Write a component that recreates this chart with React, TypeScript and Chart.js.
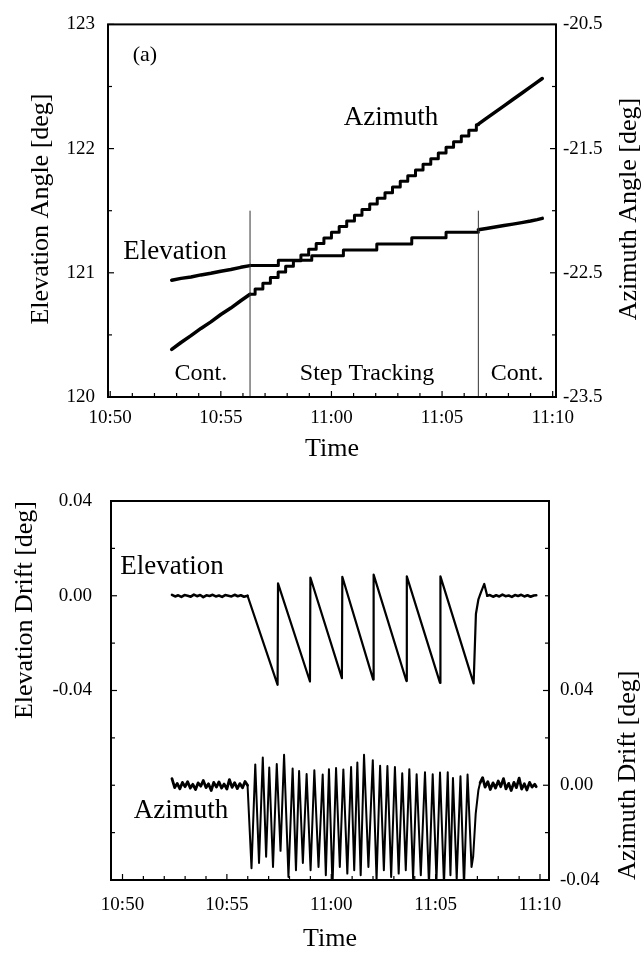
import { useEffect, useRef } from 'react';
import { Chart, registerables } from 'chart.js';

Chart.register(...registerables);

const SERIF = '"Liberation Serif", "Times New Roman", Times, serif';
const W = 642;
const TOP_H = 470;
const BOT_H = 483;

// ---------- (a) Antenna angles, x = minutes after 10:50 ----------
const elevContT1 = [2.78, 3.2, 3.65, 4.1, 4.55, 5.0, 5.45, 5.9, 6.32];
const elevContV1 = [120.94, 120.955, 120.966, 120.983, 120.996, 121.013, 121.026, 121.044, 121.058];
const elevStepEdges = [6.32, 7.6, 9.11, 10.54, 12.05, 13.63, 15.18];
const elevStepLevels = [121.058, 121.102, 121.138, 121.183, 121.231, 121.283, 121.327];
const elevContT2 = [16.64, 17.0, 17.4, 17.8, 18.2, 18.6, 19.0, 19.3, 19.53];
const elevContV2 = [121.346, 121.357, 121.369, 121.381, 121.392, 121.404, 121.417, 121.428, 121.438];

const azContT1 = [2.78, 3.2, 3.65, 4.1, 4.55, 5.0, 5.45, 5.9, 6.32];
const azContV1 = [-23.117, -23.061, -23.006, -22.948, -22.895, -22.836, -22.784, -22.725, -22.673];
const azStepEdges = [
  6.32, 6.55, 6.9, 7.24, 7.59, 7.93, 8.28, 8.62, 8.97, 9.31, 9.66, 10.0, 10.35, 10.69, 11.04, 11.38,
  11.73, 12.07, 12.42, 12.76, 13.11, 13.45, 13.8, 14.14, 14.49, 14.83, 15.18, 15.52, 15.87, 16.21, 16.55,
];
const azStepLevels = [
  -22.673, -22.63, -22.585, -22.538, -22.494, -22.447, -22.402, -22.356, -22.311, -22.265, -22.219,
  -22.174, -22.128, -22.082, -22.037, -21.991, -21.946, -21.9, -21.855, -21.809, -21.763, -21.718,
  -21.672, -21.627, -21.581, -21.535, -21.49, -21.444, -21.399, -21.353, -21.308,
];
const azContT2 = [16.64, 17.0, 17.4, 17.8, 18.2, 18.6, 19.0, 19.3, 19.53];
const azContV2 = [-21.303, -21.257, -21.206, -21.156, -21.105, -21.054, -21.003, -20.965, -20.936];
const stepEnd = 16.64;
const modeBounds = [6.32, 16.64];
const boundSpan = [120, 121.5];

const minuteTicks = [0, 1, 2, 3, 4, 5, 6, 7, 8, 9, 10, 11, 12, 13, 14, 15, 16, 17, 18, 19, 20];
const minuteLabels = [0, 5, 10, 15, 20];
const elevAngleTicks = [120, 120.5, 121, 121.5, 122, 122.5, 123];
const elevAngleLabels = [120, 121, 122, 123];
const azAngleTicks = [-23.5, -23, -22.5, -22, -21.5, -21, -20.5];
const azAngleLabels = [-23.5, -22.5, -21.5, -20.5];

// ---------- (b) Drift, x = minutes after 10:50 ----------
const elevFlatT1 = [2.37, 2.52, 2.67, 2.82, 2.97, 3.12, 3.27, 3.42, 3.57, 3.72, 3.87, 4.02, 4.17, 4.32, 4.47, 4.62, 4.77, 4.92, 5.07, 5.22, 5.37, 5.52, 5.67, 5.82, 5.99];
const elevFlatV1 = [0.0004, -0.0003, 0.0002, -0.0005, 0.0003, 0.0, -0.0004, 0.0005, -0.0002, 0.0003, -0.0006, 0.0002, -0.0001, 0.0004, -0.0003, 0.0001, -0.0005, 0.0003, 0.0, -0.0003, 0.0004, -0.0002, 0.0002, -0.0004, 0.0];
const elevSawT = [5.99, 7.43, 7.45, 8.98, 9.0, 10.51, 10.53, 12.01, 12.03, 13.6, 13.62, 15.21, 15.23, 16.82, 16.93, 17.05, 17.17, 17.33, 17.47];
const elevSawV = [0.0, -0.0376, 0.0052, -0.0362, 0.0077, -0.0348, 0.008, -0.0354, 0.0089, -0.036, 0.0082, -0.0368, 0.0082, -0.037, -0.0077, -0.0015, 0.0014, 0.005, 0.0];
const elevFlatT2 = [17.47, 17.6, 17.75, 17.9, 18.05, 18.2, 18.35, 18.5, 18.65, 18.8, 18.95, 19.1, 19.25, 19.4, 19.55, 19.7, 19.82];
const elevFlatV2 = [0.0, 0.0003, -0.0004, 0.0002, -0.0003, 0.0005, -0.0002, 0.0001, -0.0005, 0.0003, -0.0001, 0.0004, -0.0003, 0.0002, -0.0004, 0.0001, 0.0002];

const azFlatT1 = [2.37, 2.5, 2.62, 2.75, 2.87, 3.0, 3.12, 3.25, 3.37, 3.5, 3.62, 3.75, 3.87, 4.0, 4.12, 4.25, 4.37, 4.5, 4.62, 4.75, 4.87, 5.0, 5.12, 5.25, 5.37, 5.5, 5.62, 5.75, 5.87, 5.99];
const azFlatV1 = [0.0028, -0.001, 0.0008, -0.0015, 0.0012, -0.0006, 0.0015, -0.0012, 0.0004, -0.0018, 0.001, -0.0004, 0.002, -0.001, 0.0006, -0.0022, 0.0012, -0.0008, 0.0014, -0.0012, 0.0005, -0.0016, 0.0024, -0.0009, 0.0011, -0.0014, 0.0007, -0.0011, 0.0016, 0.0];
const azEntryT = [5.99, 6.18];
const azEntryV = [0.0, -0.035];
const azPeakT = [6.36, 6.72, 7.03, 7.39, 7.74, 8.15, 8.46, 8.82, 9.19, 9.59, 9.89, 10.23, 10.58, 10.95, 11.25, 11.57, 11.99, 12.34, 12.69, 13.05, 13.4, 13.74, 14.09, 14.49, 14.86, 15.21, 15.58, 15.83, 16.19, 16.53];
const azPeakV = [0.0088, 0.0117, 0.0075, 0.009, 0.0129, 0.0071, 0.006, 0.0047, 0.0063, 0.0045, 0.0068, 0.0073, 0.0067, 0.0077, 0.0096, 0.0129, 0.0106, 0.0082, 0.0081, 0.0077, 0.0051, 0.0068, 0.0046, 0.0055, 0.0046, 0.0054, 0.0055, 0.0031, 0.0038, 0.0045];
const azTroughT = [6.54, 6.88, 7.21, 7.57, 7.95, 8.31, 8.64, 9.01, 9.39, 9.74, 10.06, 10.41, 10.77, 11.1, 11.41, 11.78, 12.17, 12.52, 12.87, 13.23, 13.57, 13.92, 14.29, 14.68, 15.04, 15.4, 15.71, 16.01, 16.36, 16.72];
const azTroughV = [-0.0328, -0.0302, -0.0345, -0.0277, -0.0387, -0.0359, -0.0328, -0.0359, -0.0345, -0.038, -0.0425, -0.0345, -0.0373, -0.0359, -0.038, -0.0345, -0.0401, -0.0359, -0.0387, -0.0373, -0.0359, -0.0394, -0.038, -0.042, -0.0401, -0.042, -0.038, -0.0394, -0.0425, -0.0345];
const azExitT = [16.8, 16.92, 17.05, 17.13];
const azExitV = [-0.03, -0.012, -0.002, 0.001];
const azFlatT2 = [17.13, 17.25, 17.37, 17.5, 17.62, 17.75, 17.87, 18.0, 18.12, 18.25, 18.37, 18.5, 18.62, 18.75, 18.87, 19.0, 19.12, 19.25, 19.37, 19.5, 19.62, 19.75, 19.82];
const azFlatV2 = [0.001, 0.0032, -0.0008, 0.0015, -0.0018, 0.001, -0.0012, 0.0018, -0.0006, 0.0028, -0.0015, 0.0008, -0.0022, 0.0012, -0.001, 0.003, -0.0016, 0.0006, -0.002, 0.0012, -0.0008, 0.0004, -0.0006];

const elevDriftTicks = [-0.12, -0.1, -0.08, -0.06, -0.04, -0.02, 0, 0.02, 0.04];
const azDriftTicks = [-0.04, -0.02, 0, 0.02, 0.04, 0.06, 0.08, 0.1, 0.12];
const driftLabels = [-0.04, 0, 0.04];

// ---------- helpers ----------
const near = (list: number[], v: number) => list.some((u) => Math.abs(u - v) < 1e-6);
const pts = (t: number[], v: number[]) => t.map((x, i) => ({ x, y: v[i] }));
const clock = (v: number) => {
  const total = 50 + Math.round(v);
  return `${10 + Math.floor(total / 60)}:${String(total % 60).padStart(2, '0')}`;
};

const trace = (data: any[], yAxisID: string, width: number, extra: any = {}) => ({
  data,
  yAxisID,
  xAxisID: 'x',
  borderColor: '#000',
  borderWidth: width,
  pointRadius: 0,
  tension: 0,
  fill: false,
  borderJoinStyle: 'round',
  borderCapStyle: 'round',
  ...extra,
});

const yAxis = (
  position: string,
  min: number,
  max: number,
  tickVals: number[],
  labelVals: number[],
  fmt: (v: number) => string,
  width: number,
  pad: number,
) => ({
  type: 'linear',
  position,
  min,
  max,
  grid: { display: false, drawTicks: false },
  border: { display: false },
  afterBuildTicks: (s: any) => {
    s.ticks = tickVals.map((v) => ({ value: v }));
  },
  afterFit: (s: any) => {
    s.width = width;
  },
  ticks: {
    autoSkip: false,
    padding: pad,
    color: '#000',
    font: { family: SERIF, size: 19 },
    callback: (v: any) => (near(labelVals, Number(v)) ? fmt(Number(v)) : ''),
  },
});

const xAxis = (min: number, max: number, height: number, pad: number, titlePad: number) => ({
  type: 'linear',
  position: 'bottom',
  min,
  max,
  grid: { display: false, drawTicks: false },
  border: { display: false },
  afterBuildTicks: (s: any) => {
    s.ticks = minuteTicks.map((v) => ({ value: v }));
  },
  afterFit: (s: any) => {
    s.height = height;
  },
  ticks: {
    autoSkip: false,
    maxRotation: 0,
    padding: pad,
    color: '#000',
    font: { family: SERIF, size: 19 },
    callback: (v: any) => (near(minuteLabels, Number(v)) ? clock(Number(v)) : ''),
  },
  title: {
    display: true,
    text: 'Time',
    color: '#000',
    font: { family: SERIF, size: 26, lineHeight: 1 },
    padding: { top: 0, bottom: titlePad },
  },
});

type Note = { text: string; x: number; y: number; axis: string; size: number };
type Title = { text: string; px: number; py: number; align: CanvasTextAlign };

const decor = (
  sides: [string, 'left' | 'right' | 'bottom', number[]][],
  notes: Note[],
  titles: Title[],
) => ({
  id: 'decor',
  afterDatasetsDraw(chart: any) {
    const { ctx, chartArea: a } = chart;
    ctx.save();
    ctx.strokeStyle = '#000';
    ctx.lineWidth = 2;
    ctx.strokeRect(a.left, a.top, a.right - a.left, a.bottom - a.top);
    ctx.lineWidth = 1.2;
    for (const [id, side, labels] of sides) {
      const s = chart.scales[id];
      for (const t of s.ticks) {
        const p = s.getPixelForValue(t.value);
        const len = near(labels, t.value) ? 6 : 4;
        ctx.beginPath();
        if (side === 'bottom') {
          ctx.moveTo(p, a.bottom);
          ctx.lineTo(p, a.bottom - len);
        } else if (side === 'left') {
          ctx.moveTo(a.left, p);
          ctx.lineTo(a.left + len, p);
        } else {
          ctx.moveTo(a.right, p);
          ctx.lineTo(a.right - len, p);
        }
        ctx.stroke();
      }
    }
    ctx.fillStyle = '#000';
    ctx.textAlign = 'center';
    ctx.textBaseline = 'alphabetic';
    for (const n of notes) {
      ctx.font = `${n.size}px ${SERIF}`;
      ctx.fillText(n.text, chart.scales.x.getPixelForValue(n.x), chart.scales[n.axis].getPixelForValue(n.y));
    }
    for (const t of titles) {
      ctx.save();
      ctx.translate(t.px, t.py);
      ctx.rotate(-Math.PI / 2);
      ctx.textAlign = t.align;
      ctx.textBaseline = 'middle';
      ctx.font = `26px ${SERIF}`;
      ctx.fillText(t.text, 0, 0);
      ctx.restore();
    }
    ctx.restore();
  },
});

function topConfig(): any {
  // horizontal tread first, then the vertical riser at each step edge
  const stairs = (edges: number[], levels: number[]) => [...pts(edges, levels), { x: stepEnd, y: levels[levels.length - 1] }];
  const bounds = modeBounds.map((b) =>
    trace(pts([b, b], boundSpan), 'yL', 1, { borderColor: '#333', borderCapStyle: 'butt' }),
  );
  return {
    type: 'line',
    data: {
      datasets: [
        ...bounds,
        trace(pts(elevContT1, elevContV1), 'yL', 3.5),
        trace(stairs(elevStepEdges, elevStepLevels), 'yL', 3, { stepped: 'before' }),
        trace(pts(elevContT2, elevContV2), 'yL', 3.5),
        trace(pts(azContT1, azContV1), 'yR', 3.5),
        trace(stairs(azStepEdges, azStepLevels), 'yR', 3, { stepped: 'before' }),
        trace(pts(azContT2, azContV2), 'yR', 3.5),
      ],
    },
    options: {
      responsive: false,
      animation: false,
      events: [],
      layout: { padding: { top: 21, left: 0, right: 0, bottom: 0 } },
      plugins: { legend: { display: false }, tooltip: { enabled: false } },
      scales: {
        x: xAxis(-0.1, 20.15, TOP_H - 397, 10, 8),
        yL: yAxis('left', 120, 123, elevAngleTicks, elevAngleLabels, (v) => String(v), 108, 13),
        yR: yAxis('right', -23.5, -20.5, azAngleTicks, azAngleLabels, (v) => v.toFixed(1), W - 556, 7),
      },
    },
    plugins: [
      decor(
        [
          ['x', 'bottom', minuteLabels],
          ['yL', 'left', elevAngleLabels],
          ['yR', 'right', azAngleLabels],
        ],
        [
          { text: '(a)', x: 1.57, y: 122.705, axis: 'yL', size: 22 },
          { text: 'Azimuth', x: 12.69, y: 122.194, axis: 'yL', size: 27 },
          { text: 'Elevation', x: 2.93, y: 121.109, axis: 'yL', size: 27 },
          { text: 'Cont.', x: 4.1, y: 120.136, axis: 'yL', size: 24 },
          { text: 'Step Tracking', x: 11.61, y: 120.136, axis: 'yL', size: 24 },
          { text: 'Cont.', x: 18.39, y: 120.136, axis: 'yL', size: 24 },
        ],
        [
          { text: 'Elevation Angle [deg]', px: 41, py: 209, align: 'center' },
          { text: 'Azimuth Angle [deg]', px: 629, py: 209, align: 'center' },
        ],
      ),
    ],
  };
}

function bottomConfig(): any {
  const osc = [
    ...pts(azEntryT, azEntryV),
    ...azPeakT.flatMap((t, i) => [
      { x: t, y: azPeakV[i] },
      { x: azTroughT[i], y: azTroughV[i] },
    ]),
    ...pts(azExitT, azExitV),
  ];
  return {
    type: 'line',
    data: {
      datasets: [
        trace(pts(elevFlatT1, elevFlatV1), 'yL', 2.6),
        trace(pts(elevSawT, elevSawV), 'yL', 2.2),
        trace(pts(elevFlatT2, elevFlatV2), 'yL', 2.6),
        trace(pts(azFlatT1, azFlatV1), 'yR', 2.8),
        trace(osc, 'yR', 2),
        trace(pts(azFlatT2, azFlatV2), 'yR', 2.8),
      ],
    },
    options: {
      responsive: false,
      animation: false,
      events: [],
      layout: { padding: { top: 31, left: 0, right: 0, bottom: 0 } },
      plugins: { legend: { display: false }, tooltip: { enabled: false } },
      scales: {
        x: xAxis(-0.551, 20.431, BOT_H - 410, 14, 1),
        yL: yAxis('left', -0.12, 0.04, elevDriftTicks, driftLabels, (v) => v.toFixed(2), 111, 19),
        yR: yAxis('right', -0.04, 0.12, azDriftTicks, driftLabels, (v) => v.toFixed(2), W - 549, 11),
      },
    },
    plugins: [
      decor(
        [
          ['x', 'bottom', minuteLabels],
          ['yL', 'left', driftLabels],
          ['yR', 'right', driftLabels],
        ],
        [
          { text: 'Elevation', x: 2.37, y: 0.0092, axis: 'yL', size: 27 },
          { text: 'Azimuth', x: 2.8, y: -0.0938, axis: 'yL', size: 27 },
        ],
        [
          { text: 'Elevation Drift [deg]', px: 25, py: 31, align: 'right' },
          { text: 'Azimuth Drift [deg]', px: 628, py: 410, align: 'left' },
        ],
      ),
    ],
  };
}

export default function App() {
  const topRef = useRef<HTMLCanvasElement>(null);
  const botRef = useRef<HTMLCanvasElement>(null);

  useEffect(() => {
    const c1 = new Chart(topRef.current as HTMLCanvasElement, topConfig());
    const c2 = new Chart(botRef.current as HTMLCanvasElement, bottomConfig());
    return () => {
      c1.destroy();
      c2.destroy();
    };
  }, []);

  return (
    <div style={{ position: 'absolute', left: 0, top: 0, width: W, height: TOP_H + BOT_H, background: '#fff' }}>
      <canvas
        ref={topRef}
        width={W}
        height={TOP_H}
        style={{ position: 'absolute', left: 0, top: 0, width: W, height: TOP_H }}
      />
      <canvas
        ref={botRef}
        width={W}
        height={BOT_H}
        style={{ position: 'absolute', left: 0, top: TOP_H, width: W, height: BOT_H }}
      />
    </div>
  );
}
